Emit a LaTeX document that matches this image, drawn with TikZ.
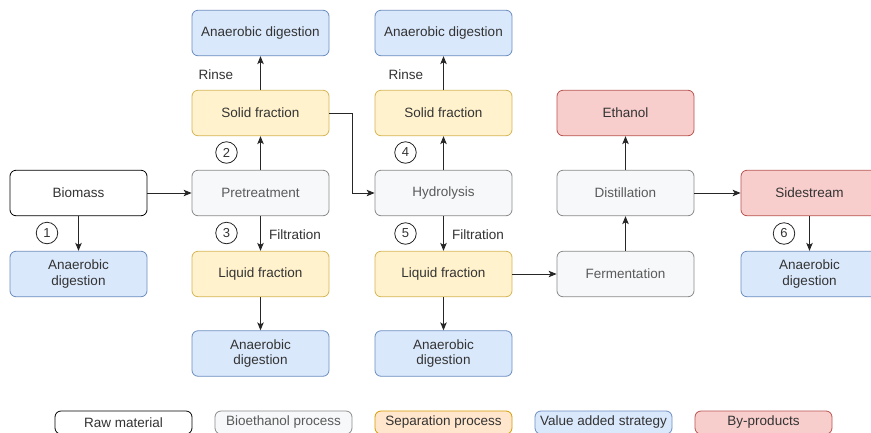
\documentclass[tikz,border=0pt]{standalone}
\usepackage{fontspec}
\setmainfont{Liberation Sans}
\usetikzlibrary{arrows.meta}
\definecolor{blueF}{HTML}{DAE8FC}\definecolor{blueS}{HTML}{6C8EBF}
\definecolor{yelF}{HTML}{FFF2CC}\definecolor{yelS}{HTML}{D6B656}
\definecolor{redF}{HTML}{F8CECC}\definecolor{redS}{HTML}{B85450}
\definecolor{grayF}{HTML}{F7F8FA}\definecolor{grayS}{HTML}{8A8A8A}
\definecolor{orF}{HTML}{FFE6CC}\definecolor{orS}{HTML}{D79B00}
\definecolor{txt}{HTML}{333333}\definecolor{txtg}{HTML}{5A5A5A}
\tikzset{
  box/.style={draw, rounded corners=6pt, minimum width=137pt, minimum height=45.5pt,
    align=center, font=\fontsize{13.5}{15.5}\selectfont, text=txt, line width=0.8pt, inner sep=2pt},
  raw/.style={box, fill=white, draw=black},
  proc/.style={box, fill=grayF, draw=grayS, text=txtg},
  sep/.style={box, fill=yelF, draw=yelS},
  val/.style={box, fill=blueF, draw=blueS},
  byp/.style={box, fill=redF, draw=redS},
  leg/.style={minimum height=23pt},
  arr/.style={-{Stealth[length=8pt,width=6.5pt,inset=2pt]}, line width=1pt, draw=black!85},
  num/.style={circle, draw=black!85, line width=0.8pt, minimum size=21.5pt, inner sep=0pt,
    font=\fontsize{13}{14}\selectfont, text=txt},
  lab/.style={font=\fontsize{13.5}{15.5}\selectfont, text=txt, inner sep=0pt}
}
\begin{document}
\begin{tikzpicture}[x=1pt,y=-1pt]
\useasboundingbox[fill=white] (0,0) rectangle (871,432);
% column A
\node[raw] (bio) at (78.5,193) {Biomass};
\node[val] (ad1) at (78.5,274) {Anaerobic\\digestion};
% column B
\node[val] (adB1) at (260.5,33) {Anaerobic digestion};
\node[sep] (sfB) at (260.5,113) {Solid fraction};
\node[proc] (pre) at (260.5,193) {Pretreatment};
\node[sep] (lfB) at (260.5,274) {Liquid fraction};
\node[val] (adB2) at (260.5,353.5) {Anaerobic\\digestion};
% column C
\node[val] (adC1) at (443.5,33) {Anaerobic digestion};
\node[sep] (sfC) at (443.5,113) {Solid fraction};
\node[proc] (hyd) at (443.5,193) {Hydrolysis};
\node[sep] (lfC) at (443.5,274) {Liquid fraction};
\node[val] (adC2) at (443.5,353.5) {Anaerobic\\digestion};
% column D
\node[byp] (eth) at (625.5,113) {Ethanol};
\node[proc] (dis) at (625.5,193) {Distillation};
\node[proc] (fer) at (625.5,274) {Fermentation};
% column E
\node[byp] (side) at (809.5,193) {Sidestream};
\node[val] (ad6) at (809.5,274) {Anaerobic\\digestion};
% connectors
\draw[arr] (bio) -- (pre);
\draw[arr] (bio) -- (ad1);
\draw[arr] (pre) -- (sfB);
\draw[arr] (pre) -- (lfB);
\draw[arr] (sfB) -- (adB1);
\draw[arr] (lfB) -- (adB2);
\draw[arr] (sfB.east) -- ++(23,0) |- (hyd.west);
\draw[arr] (hyd) -- (sfC);
\draw[arr] (hyd) -- (lfC);
\draw[arr] (sfC) -- (adC1);
\draw[arr] (lfC) -- (adC2);
\draw[arr] (lfC) -- (fer);
\draw[arr] (fer) -- (dis);
\draw[arr] (dis) -- (eth);
\draw[arr] (dis) -- (side);
\draw[arr] (side) -- (ad6);
% labels
\node[lab] (r1) at (216,75) {Rinse};
\node[lab] (r2) at (406,75) {Rinse};
\node[lab, anchor=west] (f1) at (269,235) {Filtration};
\node[lab, anchor=west] (f2) at (452,235) {Filtration};
\node[num] (n1) at (47,233) {1};
\node[num] (n2) at (226.5,152.5) {2};
\node[num] (n3) at (226.5,233) {3};
\node[num] (n4) at (405.5,152.5) {4};
\node[num] (n5) at (405.5,233.5) {5};
\node[num] (n6) at (784,233.5) {6};
% legend
\node[raw, leg] (l1) at (123.5,422.5) {Raw material};
\node[proc, leg] (l2) at (283.5,422.5) {Bioethanol process};
\node[box, leg, fill=orF, draw=orS] (l3) at (443.5,422.5) {Separation process};
\node[val, leg] (l4) at (603.5,422.5) {Value added strategy};
\node[byp, leg] (l5) at (763.5,422.5) {By-products};
\end{tikzpicture}
\end{document}
